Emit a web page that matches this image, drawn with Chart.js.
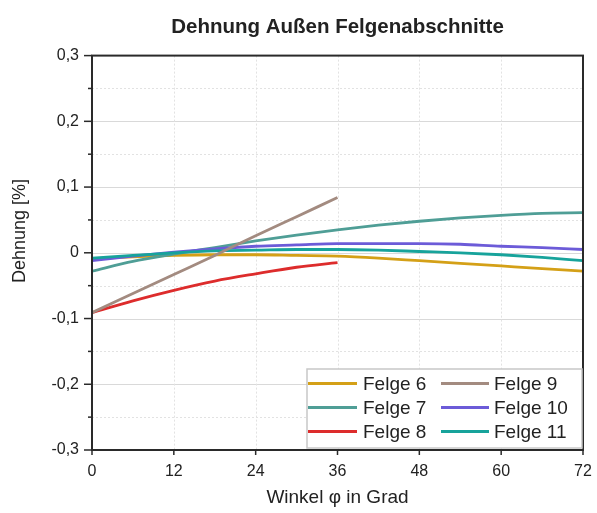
<!DOCTYPE html>
<html lang="de">
<head>
<meta charset="utf-8">
<title>Dehnung Außen Felgenabschnitte</title>
<script src="https://cdn.jsdelivr.net/npm/chart.js@4.4.0/dist/chart.umd.min.js"></script>
<style>
  html, body { margin: 0; padding: 0; background: #fff; }
  canvas { display: block; }
</style>
</head>
<body>
<canvas id="dehnungChart" width="597" height="513"></canvas>
<script>
// Winkel in Grad (Felge 8 und 9 nur bis 36°)
const winkel = [0, 6, 12, 18, 24, 30, 36, 42, 48, 54, 60, 66, 72];
const winkelKurz = [0, 6, 12, 18, 24, 30, 36];

// Dehnung in %
const felge6 = [-0.009, -0.006, -0.004, -0.003, -0.003, -0.004, -0.005, -0.008, -0.012, -0.016, -0.020, -0.024, -0.028];
const felge7 = [-0.028, -0.013, -0.002, 0.008, 0.018, 0.027, 0.035, 0.042, 0.048, 0.053, 0.057, 0.060, 0.061];
const felge8 = [-0.091, -0.073, -0.057, -0.043, -0.032, -0.022, -0.015];
const felge9 = [-0.091, -0.062, -0.033, -0.004, 0.026, 0.055, 0.084];
const felge10 = [-0.012, -0.005, 0.001, 0.006, 0.010, 0.012, 0.014, 0.014, 0.014, 0.013, 0.010, 0.008, 0.005];
const felge11 = [-0.008, -0.004, 0.000, 0.003, 0.004, 0.005, 0.005, 0.004, 0.002, 0.000, -0.003, -0.007, -0.012];

const FONT = "'Liberation Sans', Arial, sans-serif";
const TEXT = "#222";

const toPoints = (xs, ys) => ys.map((v, i) => ({ x: xs[i], y: v }));

function serie(label, xs, ys, color, order) {
  return {
    label,
    data: toPoints(xs, ys),
    borderColor: color,
    backgroundColor: color,
    borderWidth: 2.8,
    pointRadius: 0,
    tension: 0.4,
    cubicInterpolationMode: "monotone",
    order
  };
}

const formatKomma = v => {
  const r = Math.round(v * 10) / 10;
  return r === 0 ? "0" : r.toFixed(1).replace(".", ",");
};

// Gitter, Rahmen, Teilstriche, Legende und y-Achsentitel
const rahmenPlugin = {
  id: "rahmen",
  beforeDatasetsDraw(chart) {
    const { ctx, chartArea: a, scales: { x, y } } = chart;
    ctx.save();
    ctx.lineWidth = 1;
    const yt = y.ticks;
    yt.forEach((t, i) => {
      const py = Math.round(y.getPixelForValue(t.value)) + 0.5;
      if (i > 0 && i < yt.length - 1) {
        ctx.strokeStyle = "#d9d9d9";
        ctx.setLineDash([]);
        ctx.beginPath(); ctx.moveTo(a.left, py); ctx.lineTo(a.right, py); ctx.stroke();
      }
      if (i < yt.length - 1) {
        const pm = Math.round(y.getPixelForValue((t.value + yt[i + 1].value) / 2)) + 0.5;
        ctx.strokeStyle = "#e2e2e2";
        ctx.setLineDash([2, 2]);
        ctx.beginPath(); ctx.moveTo(a.left, pm); ctx.lineTo(a.right, pm); ctx.stroke();
      }
    });
    ctx.strokeStyle = "#e2e2e2";
    ctx.setLineDash([2, 2]);
    x.ticks.forEach((t, i) => {
      if (i === 0 || i === x.ticks.length - 1) return;
      const px = Math.round(x.getPixelForValue(t.value)) + 0.5;
      ctx.beginPath(); ctx.moveTo(px, a.top); ctx.lineTo(px, a.bottom); ctx.stroke();
    });
    ctx.restore();
  },
  afterDatasetsDraw(chart) {
    const { ctx, chartArea: a, scales: { x, y } } = chart;
    ctx.save();
    ctx.strokeStyle = "#2a2a2a";
    ctx.lineWidth = 2;
    ctx.strokeRect(a.left, a.top, a.right - a.left, a.bottom - a.top);

    // Teilstriche
    ctx.lineWidth = 1.5;
    const yt = y.ticks;
    yt.forEach((t, i) => {
      const py = y.getPixelForValue(t.value);
      ctx.beginPath(); ctx.moveTo(a.left - 8, py); ctx.lineTo(a.left, py); ctx.stroke();
      if (i < yt.length - 1) {
        const pm = y.getPixelForValue((t.value + yt[i + 1].value) / 2);
        ctx.beginPath(); ctx.moveTo(a.left - 4, pm); ctx.lineTo(a.left, pm); ctx.stroke();
      }
    });
    x.ticks.forEach(t => {
      const px = x.getPixelForValue(t.value);
      ctx.beginPath(); ctx.moveTo(px, a.bottom); ctx.lineTo(px, a.bottom + 5); ctx.stroke();
    });

    // Legende: zwei Spalten, spaltenweise gefüllt
    const w = 275, h = 79;
    const x0 = a.right - 1 - w, y0 = a.bottom - 2 - h;
    ctx.fillStyle = "#fff";
    ctx.fillRect(x0, y0, w, h);
    ctx.strokeStyle = "#c8c8c8";
    ctx.lineWidth = 1.5;
    ctx.strokeRect(x0, y0, w, h);
    ctx.font = "19px " + FONT;
    ctx.textBaseline = "middle";
    ctx.textAlign = "left";
    const spalten = [{ l0: 1, l1: 50, tx: 56 }, { l0: 134, l1: 182, tx: 187 }];
    chart.data.datasets.forEach((ds, i) => {
      const s = spalten[Math.floor(i / 3)];
      const cy = y0 + 14.5 + (i % 3) * 24;
      ctx.strokeStyle = ds.borderColor;
      ctx.lineWidth = 3;
      ctx.beginPath(); ctx.moveTo(x0 + s.l0, cy); ctx.lineTo(x0 + s.l1, cy); ctx.stroke();
      ctx.fillStyle = TEXT;
      ctx.fillText(ds.label, x0 + s.tx, cy + 1);
    });

    // y-Achsentitel
    ctx.translate(20, 231);
    ctx.rotate(-Math.PI / 2);
    ctx.font = "18px " + FONT;
    ctx.textAlign = "center";
    ctx.fillStyle = TEXT;
    ctx.fillText("Dehnung [%]", 0, 0);
    ctx.restore();
  }
};

new Chart(document.getElementById("dehnungChart"), {
  type: "line",
  data: {
    datasets: [
      serie("Felge 6", winkel, felge6, "#d4a017", 5),
      serie("Felge 7", winkel, felge7, "#4f9e96", 4),
      serie("Felge 8", winkelKurz, felge8, "#dd2c2c", 1),
      serie("Felge 9", winkelKurz, felge9, "#a38b80", 0),
      serie("Felge 10", winkel, felge10, "#6c5bd8", 3),
      serie("Felge 11", winkel, felge11, "#17a39b", 2)
    ]
  },
  options: {
    responsive: false,
    devicePixelRatio: 1,
    animation: false,
    layout: { padding: { top: 0, right: 14, bottom: 0, left: 0 } },
    plugins: {
      legend: { display: false },
      tooltip: { enabled: false },
      title: {
        display: true,
        fullSize: false,
        text: "Dehnung Außen Felgenabschnitte",
        color: TEXT,
        font: { family: FONT, size: 20.5, weight: "bold" },
        padding: { top: 15, bottom: 16 }
      }
    },
    scales: {
      x: {
        type: "linear",
        min: 0,
        max: 72,
        afterFit: s => { s.height = 63; s.paddingLeft = 0; s.paddingRight = 0; },
        grid: { display: false, drawTicks: false },
        border: { display: false },
        ticks: { stepSize: 12, padding: 12, color: TEXT, font: { family: FONT, size: 16 } },
        title: {
          display: true,
          text: "Winkel φ in Grad",
          color: TEXT,
          font: { family: FONT, size: 19 },
          padding: { top: 4, bottom: 4 }
        }
      },
      y: {
        min: -0.3,
        max: 0.3,
        afterFit: s => { s.width = 92; },
        grid: { display: false, drawTicks: false },
        border: { display: false },
        ticks: {
          stepSize: 0.1,
          padding: 13,
          color: TEXT,
          font: { family: FONT, size: 16 },
          callback: formatKomma
        }
      }
    }
  },
  plugins: [rahmenPlugin]
});
</script>
</body>
</html>
